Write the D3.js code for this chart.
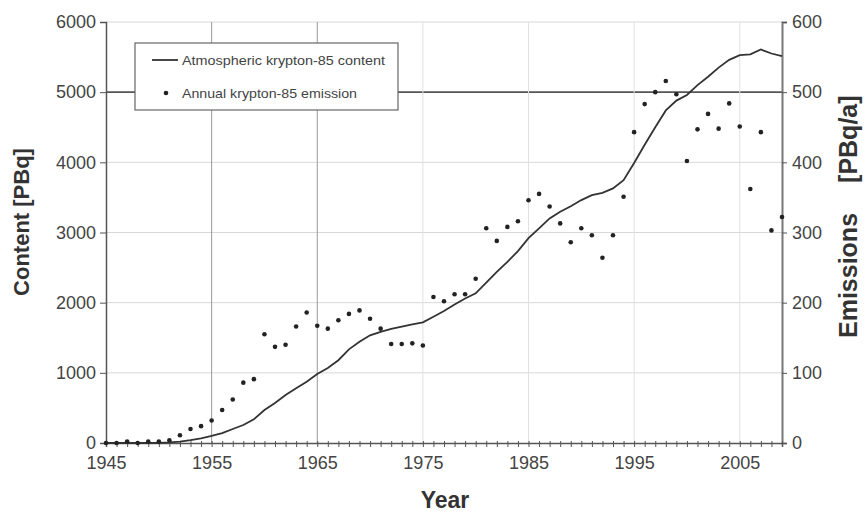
<!DOCTYPE html>
<html>
  <head>
    <script src="https://cdnjs.cloudflare.com/ajax/libs/d3/7.8.5/d3.min.js"></script>
    <style type="text/css">
      body {
        margin: 0;
        padding: 0;
        background: #fff;
      }
      svg {
        font-family: 'Liberation Sans', Arial, sans-serif;
      }
      .tick-label {
        font-size: 18px;
        fill: #444;
      }
      .axis-title {
        font-weight: bold;
        fill: #333;
      }
      .legend-text {
        font-size: 13px;
        fill: #444;
      }
    </style>
  </head>
  <body>
    <div id="chart"></div>
    <script type="text/javascript">
    const years = [
      1945, 1946, 1947, 1948, 1949, 1950, 1951, 1952, 1953, 1954,
      1955, 1956, 1957, 1958, 1959, 1960, 1961, 1962, 1963, 1964,
      1965, 1966, 1967, 1968, 1969, 1970, 1971, 1972, 1973, 1974,
      1975, 1976, 1977, 1978, 1979, 1980, 1981, 1982, 1983, 1984,
      1985, 1986, 1987, 1988, 1989, 1990, 1991, 1992, 1993, 1994,
      1995, 1996, 1997, 1998, 1999, 2000, 2001, 2002, 2003, 2004,
      2005, 2006, 2007, 2008, 2009
    ];
    // atmospheric Kr-85 content [PBq]
    const content = [
      0, 0, 0, 0, 0, 2, 8, 20, 40, 67,
      100, 140, 200, 256, 338, 470, 570, 684, 780, 873,
      983, 1070, 1180, 1335, 1443, 1535, 1585, 1625, 1660, 1690,
      1720, 1800, 1880, 1975, 2060, 2133, 2285, 2440, 2580, 2735,
      2920, 3060, 3201, 3295, 3375, 3462, 3533, 3566, 3628, 3746,
      3990, 4250, 4500, 4740, 4880, 4960, 5100, 5220, 5350, 5460,
      5527, 5540, 5608, 5551, 5513
    ];
    // annual Kr-85 emission [PBq/a]
    const emissions = [
      0, 0, 2, 0, 2, 2, 4, 11, 20, 24,
      32, 47, 62, 86, 91, 155, 137, 140, 166, 186,
      167, 163, 175, 184, 189, 177, 163, 141, 141, 142,
      139, 208, 202, 212, 212, 234, 306, 288, 308, 316,
      346, 355, 337, 313, 286, 306, 296, 264, 296, 351,
      443, 483, 500, 516, 497, 402, 447, 469, 448, 484,
      451, 362, 443, 303, 322
    ];
    const xTickLabels = [1945, 1955, 1965, 1975, 1985, 1995, 2005];
    const contentTicks = [0, 1000, 2000, 3000, 4000, 5000, 6000];
    const emissionTicks = [0, 100, 200, 300, 400, 500, 600];
    const legendLabels = ['Atmospheric krypton-85 content', 'Annual krypton-85 emission'];

    const width = 865, height = 513;
    const plot = { left: 106, right: 782, top: 22, bottom: 443 };

    const svg = d3.select('#chart')
      .append('svg')
      .attr('width', width)
      .attr('height', height);

    const x = d3.scaleLinear().domain([1945, 2009]).range([plot.left, plot.right]);
    const yContent = d3.scaleLinear().domain([0, 6000]).range([plot.bottom, plot.top]);
    const yEmission = d3.scaleLinear().domain([0, 600]).range([plot.bottom, plot.top]);

    (/* grid lines */() => {
      const grid = svg.append('g').attr('class', 'grid');
      grid.selectAll('.h-grid')
        .data(contentTicks.slice(1))
        .enter()
        .append('line')
        .attr('x1', plot.left)
        .attr('x2', plot.right)
        .attr('y1', d => yContent(d))
        .attr('y2', d => yContent(d))
        .attr('stroke', d => d === 5000 ? '#555' : '#d8d8d8')
        .attr('stroke-width', d => d === 5000 ? 1.6 : 1);
      grid.selectAll('.v-grid')
        .data(xTickLabels.slice(1))
        .enter()
        .append('line')
        .attr('x1', d => x(d))
        .attr('x2', d => x(d))
        .attr('y1', plot.top)
        .attr('y2', plot.bottom)
        .attr('stroke', d => d < 1970 ? '#999' : '#e0e0e0')
        .attr('stroke-width', 1);
    })();

    (/* axes */() => {
      const yl = svg.append('g')
        .attr('transform', `translate(${plot.left},0)`)
        .call(d3.axisLeft(yContent).tickValues(contentTicks).tickFormat(d3.format('d'))
          .tickSize(6).tickPadding(4));
      const yr = svg.append('g')
        .attr('transform', `translate(${plot.right},0)`)
        .call(d3.axisRight(yEmission).tickValues(emissionTicks).tickFormat(d3.format('d'))
          .tickSize(5).tickPadding(5));
      const xb = svg.append('g')
        .attr('transform', `translate(0,${plot.bottom})`)
        .call(d3.axisBottom(x).tickValues(years).tickSize(4)
          .tickFormat(d => xTickLabels.includes(d) ? d : ''));

      [yl, yr, xb].forEach(g => {
        g.attr('font-size', null).attr('font-family', null);
        g.select('.domain').attr('stroke', '#555').attr('stroke-width', 1.5);
        g.selectAll('.tick line').attr('stroke', '#555');
        g.selectAll('.tick text').attr('class', 'tick-label').attr('fill', null);
      });
      yr.select('.domain').attr('stroke', '#777').attr('stroke-width', 2);
      xb.selectAll('.tick line').attr('y1', -2);
      xb.selectAll('.tick text').attr('dy', '1.05em');
    })();

    // content line
    const line = d3.line()
      .x((d, i) => x(years[i]))
      .y(d => yContent(d));
    svg.append('path')
      .datum(content)
      .attr('d', line)
      .attr('fill', 'none')
      .attr('stroke', '#333')
      .attr('stroke-width', 1.8);

    // emission points
    svg.selectAll('.emission')
      .data(emissions)
      .enter()
      .append('circle')
      .attr('class', 'emission')
      .attr('cx', (d, i) => x(years[i]))
      .attr('cy', d => yEmission(d))
      .attr('r', 2.3)
      .attr('fill', '#222');

    (/* legend */() => {
      const g = svg.append('g').attr('class', 'legend');
      g.append('rect')
        .attr('x', 135)
        .attr('y', 43)
        .attr('width', 263)
        .attr('height', 67)
        .attr('fill', '#fff')
        .attr('stroke', '#666')
        .attr('stroke-width', 1.2);
      g.append('line')
        .attr('x1', 152).attr('x2', 178)
        .attr('y1', 60).attr('y2', 60)
        .attr('stroke', '#333')
        .attr('stroke-width', 1.8);
      g.append('circle')
        .attr('cx', 166).attr('cy', 93)
        .attr('r', 2.3)
        .attr('fill', '#222');
      g.selectAll('.legend-text')
        .data(legendLabels)
        .enter()
        .append('text')
        .attr('class', 'legend-text')
        .attr('x', 182)
        .attr('y', (d, i) => 60 + i * 33)
        .attr('dominant-baseline', 'central')
        .attr('textLength', (d, i) => i === 0 ? 203 : 175)
        .attr('lengthAdjust', 'spacingAndGlyphs')
        .text(d => d);
    })();

    (/* axis titles */() => {
      svg.append('text')
        .attr('class', 'axis-title')
        .attr('transform', 'translate(29,222) rotate(-90)')
        .attr('text-anchor', 'middle')
        .attr('font-size', 22)
        .text('Content [PBq]');
      const em = svg.append('text')
        .attr('class', 'axis-title')
        .attr('transform', 'translate(857,338) rotate(-90)')
        .attr('text-anchor', 'start')
        .attr('font-size', 25);
      em.append('tspan').text('Emissions');
      em.append('tspan').attr('dx', 30).text('[PBq/a]');
      svg.append('text')
        .attr('class', 'axis-title')
        .attr('x', 445)
        .attr('y', 508)
        .attr('text-anchor', 'middle')
        .attr('font-size', 23)
        .text('Year');
    })();
    </script>
  </body>
</html>
